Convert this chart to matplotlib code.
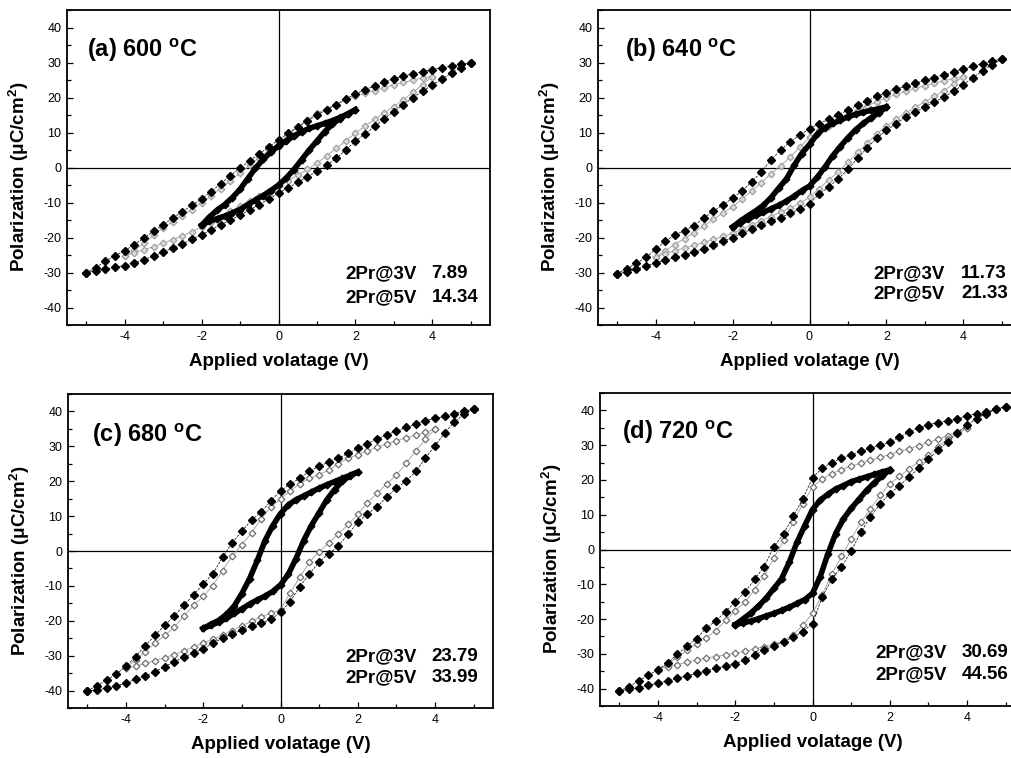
import matplotlib
matplotlib.use("Agg")
import matplotlib.pyplot as plt
import numpy as np
from matplotlib.ticker import MultipleLocator

plt.rcParams["font.family"] = ["Liberation Sans", "DejaVu Sans"]
plt.rcParams["mathtext.fontset"] = "custom"
plt.rcParams["mathtext.rm"] = "Liberation Sans"
plt.rcParams["mathtext.bf"] = "Liberation Sans:bold"
plt.rcParams["axes.unicode_minus"] = False

# voltage grids of the three loops (5 V, 4 V, 2 V sweeps)
v5 = np.linspace(-5, 5, 41)
v4 = np.linspace(-4, 4, 33)
v2 = np.linspace(-2, 2, 21)

# (a) 600 C
a_p5_up = [-30.0, -28.6, -26.7, -25.2, -23.8, -22.0, -20.2, -18.2, -16.3, -14.5, -12.6, -10.8, -9.0, -6.9,
           -4.6, -2.3, -0.2, 1.9, 3.9, 5.9, 7.9, 9.8, 11.6, 13.3, 15.0, 16.5, 18.0, 19.6, 21.0, 22.2, 23.3,
           24.4, 25.4, 26.1, 26.8, 27.4, 28.0, 28.5, 29.0, 29.5, 30.0]
a_p5_dn = [-30.0, -29.6, -29.0, -28.5, -28.0, -27.2, -26.3, -25.3, -24.2, -23.0, -21.8, -20.5, -19.2, -17.8,
           -16.4, -15.0, -13.6, -12.1, -10.6, -9.0, -7.3, -5.8, -4.2, -2.7, -1.1, 0.6, 2.6, 5.0, 7.5, 9.6,
           11.8, 13.9, 16.0, 18.0, 20.0, 21.8, 23.6, 25.3, 27.0, 28.5, 30.0]
a_p4_up = [-25.2, -23.6, -21.7, -19.3, -17.2, -15.5, -13.8, -12.0, -10.2, -8.1, -6.0, -3.8, -1.6, 0.6, 2.8,
           4.9, 7.0, 9.3, 11.5, 13.6, 15.5, 16.8, 18.0, 19.2, 20.3, 21.2, 22.0, 22.8, 23.6, 24.3, 25.0, 25.6, 26.0]
a_p4_dn = [-25.2, -24.4, -23.5, -22.6, -21.6, -20.6, -19.5, -18.3, -17.0, -15.5, -14.0, -12.5, -11.0, -9.6,
           -8.2, -6.8, -5.4, -3.8, -2.2, -0.5, 1.2, 3.3, 5.5, 7.6, 9.8, 11.8, 13.8, 15.6, 17.4, 19.4, 21.5, 23.7, 26.0]
a_p2_up = [-16.5, -14.2, -12.2, -10.6, -8.6, -6.2, -3.2, -0.2, 2.3, 4.4, 6.2, 7.6, 9.0, 10.2, 11.2, 11.9,
           12.6, 13.4, 14.3, 15.3, 16.5]
a_p2_dn = [-16.5, -15.4, -14.6, -13.9, -13.0, -12.0, -10.6, -9.3, -8.0, -6.6, -5.0, -3.0, -0.6, 2.2, 5.0,
           7.6, 10.2, 12.4, 14.0, 15.3, 16.5]

# (b) 640 C
b_p5_up = [-30.3, -28.9, -27.4, -25.6, -23.4, -21.0, -19.3, -18.0, -16.6, -14.4, -12.5, -10.6, -8.8, -6.6,
           -4.1, -1.2, 2.2, 5.0, 7.3, 9.3, 11.1, 12.5, 13.8, 15.1, 16.4, 17.8, 19.1, 20.3, 21.4, 22.4, 23.3,
           24.1, 24.9, 25.7, 26.5, 27.3, 28.1, 28.9, 29.7, 30.4, 31.0]
b_p5_dn = [-30.5, -29.8, -29.0, -28.1, -27.3, -26.4, -25.7, -25.0, -24.1, -23.2, -22.2, -21.1, -20.0, -18.8,
           -17.6, -16.4, -15.3, -14.3, -13.1, -11.8, -10.3, -7.7, -5.5, -3.3, -0.5, 2.6, 5.6, 8.4, 10.6, 12.5,
           14.5, 15.9, 17.3, 18.8, 20.1, 21.8, 23.7, 25.7, 27.6, 29.4, 31.0]
b_p4_up = [-25.5, -23.8, -22.0, -20.3, -18.6, -16.6, -14.8, -13.0, -11.2, -9.0, -6.6, -4.3, -1.8, 0.5, 3.0,
           5.8, 8.6, 10.6, 12.0, 13.6, 15.0, 16.4, 17.6, 18.8, 19.9, 20.9, 21.8, 22.6, 23.4, 24.1, 24.8, 25.4, 26.0]
b_p4_dn = [-25.5, -24.6, -23.8, -23.0, -22.2, -21.4, -20.5, -19.7, -18.8, -17.6, -16.4, -15.2, -14.0, -12.8,
           -11.6, -10.2, -8.5, -6.0, -3.6, -1.2, 1.5, 4.3, 7.0, 9.6, 11.8, 13.8, 15.6, 17.2, 18.8, 20.3, 22.0, 24.0, 26.0]
b_p2_up = [-17.0, -15.3, -13.8, -12.4, -10.8, -8.6, -5.9, -3.3, 0.6, 4.0, 6.6, 9.5, 11.4, 12.6, 13.5, 14.5,
           15.2, 15.8, 16.3, 16.8, 17.3]
b_p2_dn = [-17.0, -15.8, -14.7, -13.7, -12.8, -11.8, -10.8, -9.6, -8.2, -6.6, -5.3, -2.8, 0.1, 3.3, 6.0, 8.5,
           10.8, 12.6, 14.2, 15.6, 17.3]

# (c) 680 C
c_p5_up = [-40.1, -38.6, -37.0, -35.3, -33.0, -30.3, -27.1, -24.2, -21.3, -18.6, -15.6, -12.5, -9.5, -6.5,
           -1.8, 2.4, 5.7, 8.9, 11.2, 14.3, 17.3, 19.1, 20.9, 22.8, 24.3, 25.5, 26.6, 28.0, 29.4, 30.8, 32.1,
           33.3, 34.4, 35.4, 36.4, 37.4, 38.0, 38.6, 39.4, 40.1, 40.7]
c_p5_dn = [-40.1, -39.8, -39.3, -38.7, -37.8, -36.8, -35.8, -34.6, -33.2, -31.7, -30.4, -29.2, -28.0, -26.4,
           -25.0, -23.8, -22.7, -21.6, -20.7, -19.6, -17.6, -14.5, -10.2, -6.6, -3.1, -0.8, 1.5, 4.8, 8.3, 10.7,
           12.7, 15.5, 18.0, 20.0, 22.8, 26.6, 30.2, 33.8, 37.0, 39.2, 40.7]
c_p4_up = [-33.5, -31.1, -28.9, -26.4, -24.2, -21.9, -18.6, -15.6, -13.0, -9.9, -5.6, -1.5, 1.8, 5.2, 9.3,
           12.6, 14.9, 17.2, 19.3, 20.8, 21.9, 23.2, 25.0, 26.6, 27.6, 28.7, 29.7, 30.7, 31.6, 32.5, 33.2, 34.0, 34.9]
c_p4_dn = [-33.5, -33.0, -32.2, -31.4, -30.6, -29.7, -28.6, -27.5, -26.4, -25.3, -24.1, -22.8, -21.4, -20.2,
           -18.8, -17.9, -16.9, -12.0, -7.5, -3.2, -0.2, 2.3, 4.9, 7.6, 10.5, 13.8, 16.6, 19.2, 21.8, 25.1, 28.7, 32.0, 34.9]
c_p2_up = [-22.2, -21.0, -19.9, -18.2, -15.8, -12.2, -7.9, -2.7, 3.0, 7.3, 10.7, 13.2, 14.7, 15.8, 16.9, 18.0,
           19.0, 19.9, 20.8, 21.7, 22.6]
c_p2_dn = [-22.2, -21.3, -20.4, -19.3, -17.9, -16.6, -15.2, -14.0, -12.9, -11.6, -9.7, -6.7, -2.2, 3.0, 7.3,
           11.0, 14.7, 17.6, 20.0, 21.6, 22.6]

# (d) 720 C
d_p5_up = [-40.7, -39.4, -37.8, -36.1, -34.6, -32.7, -30.1, -27.8, -25.6, -22.6, -20.5, -17.9, -15.1, -12.3,
           -8.6, -4.9, 0.8, 4.5, 9.5, 14.6, 20.6, 23.4, 25.0, 26.3, 27.3, 28.2, 29.1, 30.0, 30.9, 32.3, 33.8,
           35.0, 35.9, 36.5, 37.0, 37.6, 38.5, 39.0, 39.6, 40.3, 41.1]
d_p5_dn = [-40.7, -40.2, -39.7, -39.1, -38.4, -37.8, -37.0, -36.3, -35.6, -34.9, -34.2, -33.5, -32.8, -31.8,
           -30.4, -29.0, -27.7, -26.5, -25.2, -23.6, -21.3, -13.7, -8.5, -5.0, -0.5, 5.0, 9.4, 13.1, 16.1, 18.3,
           20.9, 23.3, 25.9, 28.6, 31.0, 33.6, 35.8, 37.6, 39.1, 40.3, 41.1]
d_p4_up = [-34.4, -32.9, -31.0, -29.0, -27.2, -25.4, -23.3, -20.4, -17.6, -15.2, -11.6, -7.6, -2.5, 2.6, 7.8,
           13.2, 18.0, 20.3, 21.8, 23.0, 24.0, 24.8, 25.6, 26.5, 27.3, 28.2, 29.0, 29.9, 30.8, 31.7, 32.7, 33.8, 34.9]
d_p4_dn = [-34.4, -33.7, -33.1, -32.4, -31.7, -31.2, -30.8, -30.3, -29.8, -29.3, -28.6, -27.9, -27.2, -26.2,
           -24.5, -21.8, -18.4, -13.0, -7.0, -2.0, 3.0, 7.8, 11.6, 15.6, 18.9, 21.0, 23.2, 25.2, 27.1, 29.5, 31.8, 33.3, 34.9]
d_p2_up = [-21.6, -20.0, -18.3, -16.3, -14.0, -11.2, -8.4, -3.6, 2.1, 6.9, 11.5, 14.2, 15.9, 17.4, 18.4, 19.5,
           20.2, 20.9, 21.6, 22.3, 22.9]
d_p2_dn = [-21.6, -21.1, -20.6, -19.9, -19.1, -18.4, -17.5, -16.6, -15.5, -14.4, -12.6, -7.8, -1.2, 4.6, 8.8,
           11.8, 14.4, 17.0, 19.2, 21.1, 22.9]

letters = ["a", "b", "c", "d"]
temps = [600, 640, 680, 720]
pr_3v = ["7.89", "11.73", "23.79", "30.69"]
pr_5v = ["14.34", "21.33", "33.99", "44.56"]

loops = [
    (a_p5_up, a_p5_dn, a_p4_up, a_p4_dn, a_p2_up, a_p2_dn),
    (b_p5_up, b_p5_dn, b_p4_up, b_p4_dn, b_p2_up, b_p2_dn),
    (c_p5_up, c_p5_dn, c_p4_up, c_p4_dn, c_p2_up, c_p2_dn),
    (d_p5_up, d_p5_dn, d_p4_up, d_p4_dn, d_p2_up, d_p2_dn),
]

W, H = 1012, 758
# axes boxes in pixels: left, top, right, bottom
boxes = [(67, 10, 490, 325), (598, 10, 1021, 325), (68, 394, 493, 708), (600, 393, 1025, 706)]
title_pos = [(0.047, 0.85), (0.064, 0.85), (0.056, 0.847), (0.052, 0.853)]
pr_pos = [(0.657, 0.862, 0.149, 0.073), (0.652, 0.858, 0.149, 0.086),
          (0.652, 0.856, 0.150, 0.083), (0.647, 0.852, 0.157, 0.086)]
gray_face = ["#dcdcdc", "#dcdcdc", "white", "white"]
gray_edge = ["#a0a0a0", "#a0a0a0", "#707070", "#707070"]

fig = plt.figure(figsize=(W / 100, H / 100), dpi=100)

for i in range(4):
    l, t, r, b = boxes[i]
    ax = fig.add_axes([l / W, 1 - b / H, (r - l) / W, (b - t) / H])
    p5u, p5d, p4u, p4d, p2u, p2d = loops[i]

    for p in (p4u, p4d):
        ax.plot(v4, p, color="#a8a8a8", lw=0.7, marker="D", ms=3.4,
                mfc=gray_face[i], mec=gray_edge[i], mew=0.9, zorder=2)
    for p in (p2u, p2d):
        ax.plot(v2, p, color="black", lw=4.0, marker="D", ms=3.4, zorder=3)
    for p in (p5u, p5d):
        ax.plot(v5, p, color="black", lw=0.5, ls="--", marker="D", ms=4.4, zorder=4)

    ax.axhline(0, color="black", lw=0.9, zorder=1)
    ax.axvline(0, color="black", lw=0.9, zorder=1)

    ax.set_xlim(-5.5, 5.5)
    ax.set_ylim(-45, 45)
    ax.xaxis.set_major_locator(MultipleLocator(2))
    ax.xaxis.set_minor_locator(MultipleLocator(1))
    ax.yaxis.set_major_locator(MultipleLocator(10))
    ax.yaxis.set_minor_locator(MultipleLocator(5))
    ax.tick_params(which="both", direction="in", width=0.9, labelsize=9, pad=4)
    ax.tick_params(which="major", length=4.5)
    ax.tick_params(which="minor", length=3)
    for s in ax.spines.values():
        s.set_linewidth(1.3)

    ax.set_xlabel("Applied volatage (V)", fontsize=13.5, fontweight="bold")
    ax.xaxis.set_label_coords(0.5, -0.088)
    ax.set_ylabel(r"Polarization (μC/cm$^{\mathbf{2}}$)", fontsize=13.5, fontweight="bold")
    ax.yaxis.set_label_coords(-0.085, 0.47)

    tx, ty = title_pos[i]
    ax.text(tx, ty, "(%s) %d $^{\\mathbf{o}}$C" % (letters[i], temps[i]), transform=ax.transAxes,
            fontsize=17, fontweight="bold", va="baseline")

    lx, vx, y1, y2 = pr_pos[i]
    ax.text(lx, y1, "2Pr@3V", transform=ax.transAxes, fontsize=13.5, fontweight="bold", va="baseline")
    ax.text(vx, y1, pr_3v[i], transform=ax.transAxes, fontsize=13.5, fontweight="bold", va="baseline")
    ax.text(lx, y2, "2Pr@5V", transform=ax.transAxes, fontsize=13.5, fontweight="bold", va="baseline")
    ax.text(vx, y2, pr_5v[i], transform=ax.transAxes, fontsize=13.5, fontweight="bold", va="baseline")

fig.savefig("out.png", dpi=100)
